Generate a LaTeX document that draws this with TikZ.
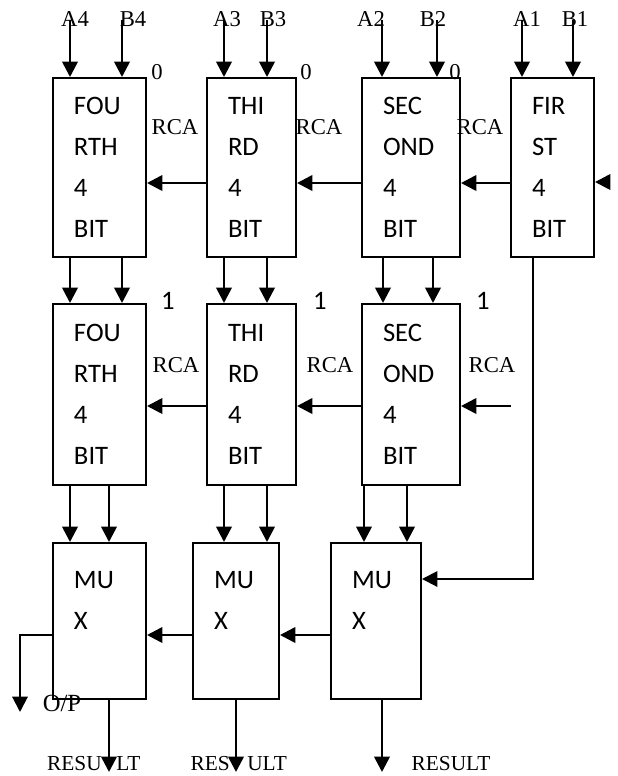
\documentclass[tikz,border=0pt]{standalone}
\usepackage{fontspec}
\setmainfont{Liberation Serif}
\newfontfamily\boxfont{Carlito}
\usetikzlibrary{arrows.meta}

\begin{document}
\begin{tikzpicture}[x=0.75pt, y=-0.75pt,
    blk/.style={draw, line width=1.5pt, anchor=north west, inner xsep=15.75pt,
      align=left, font=\boxfont\fontsize{20}{30.75}\selectfont},
    sig/.style={-{Triangle[length=11.5pt, width=11.5pt]}, line width=2pt},
    lbl/.style={font=\fontsize{17}{17}\selectfont, inner sep=0pt},
    num/.style={font=\boxfont\fontsize{20}{20}\selectfont, inner sep=0pt},
  ]
  \useasboundingbox (0,0) rectangle (618,776);

  % First row of adders
  \node[blk, text width=38.25pt, minimum height=134.25pt] (f1) at (52,77) {FOU\\RTH\\4\\BIT};
  \node[blk, text width=35.25pt, minimum height=134.25pt] (t1) at (206,77) {THI\\RD\\4\\BIT};
  \node[blk, text width=42pt, minimum height=134.25pt] (s1) at (361,77) {SEC\\OND\\4\\BIT};
  \node[blk, text width=30.75pt, minimum height=134.25pt] (r1) at (510,77) {FIR\\ST\\4\\BIT};

  % Second row of adders
  \node[blk, text width=38.25pt, minimum height=135.75pt] (f2) at (52,303) {FOU\\RTH\\4\\BIT};
  \node[blk, text width=35.25pt, minimum height=135.75pt] (t2) at (206,303) {THI\\RD\\4\\BIT};
  \node[blk, text width=42pt, minimum height=135.75pt] (s2) at (361,303) {SEC\\OND\\4\\BIT};

  % Multiplexers
  \node[blk, text width=38.25pt, minimum height=117pt] (m1) at (52,542) {MU\\X\\\mbox{}};
  \node[blk, text width=33pt, minimum height=117pt] (m2) at (192,542) {MU\\X\\\mbox{}};
  \node[blk, text width=36pt, minimum height=117pt] (m3) at (330,542) {MU\\X\\\mbox{}};

  % Side labels
  \foreach \x/\y/\t in {157/72/0, 306/72/0, 455/72/0,
      175/127/RCA, 319/127/RCA, 480/127/RCA, 603/127//P,
      176/365/RCA, 330/365/RCA, 492/365/RCA}
    \node[lbl] (tag-\x-\y) at (\x,\y) {\t};
  \foreach \x in {168, 320, 483}
    \node[num] (one-\x) at (\x,301) {1};
  \node[lbl, font=\fontsize{18.5}{18.5}\selectfont] (oplbl) at (62,703) {O/P};
  \node[lbl, anchor=east, font=\fontsize{16}{16}\selectfont] (r1a) at (102,764) {RESU};
  \node[lbl, anchor=west, font=\fontsize{16}{16}\selectfont] (r1b) at (116,764) {LT};
  \node[lbl, anchor=east, font=\fontsize{16}{16}\selectfont] (r2a) at (230,764) {RES};
  \node[lbl, anchor=west, font=\fontsize{16}{16}\selectfont] (r2b) at (247,764) {ULT};
  \node[lbl, font=\fontsize{16}{16}\selectfont] (r3) at (451,764) {RESULT};

  % Operand inputs
  \foreach \x/\tx/\t/\b in {70/75/A4/f1, 122/133/B4/f1, 224/227/A3/t1, 267/273/B3/t1,
      382/371/A2/s1, 437/433/B2/s1, 522/527/A1/r1, 573/575/B1/r1} {
    \node[lbl] (\t) at (\tx,19) {\t};
    \coordinate (in\t) at (\x,20);
    \draw[sig] (in\t) -- (in\t |- \b.north);
  }

  % Sum buses between rows
  \foreach \x/\a/\b in {70/f1/f2, 122/f1/f2, 224/t1/t2, 267/t1/t2, 383/s1/s2, 433/s1/s2,
      70/f2/m1, 109/f2/m1, 224/t2/m2, 267/t2/m2, 364/s2/m3, 407/s2/m3} {
    \coordinate (col) at (\x,0);
    \draw[sig] (col |- \a.south) -- (col |- \b.north);
  }

  % Carry chains
  \coordinate (c1) at (0,183);
  \coordinate (c2) at (0,406);
  \coordinate (c3) at (0,635);
  \foreach \a/\b/\c in {t1/f1/c1, s1/t1/c1, r1/s1/c1, t2/f2/c2, s2/t2/c2, m2/m1/c3, m3/m2/c3}
    \draw[sig] (\a.west |- \c) -- (\b.east |- \c);
  \coordinate (cin1) at (608,182);
  \draw[sig] (cin1) -- (r1.east |- cin1);
  \coordinate (cin2) at (511,406);
  \draw[sig] (cin2) -- (s2.east |- cin2);

  % Select line and outputs
  \coordinate (sel) at (533,579);
  \draw[sig, line width=1.5pt] (sel |- r1.south) -- (sel) -- (m3.east |- sel);
  \coordinate (op) at (20,712);
  \draw[sig, line width=1.5pt] (m1.west |- c3) -| (op);
  \foreach \x/\m in {109/m1, 236/m2, 382/m3} {
    \coordinate (res\m) at (\x,772);
    \draw[sig] (res\m |- \m.south) -- (res\m);
  }
\end{tikzpicture}
\end{document}
